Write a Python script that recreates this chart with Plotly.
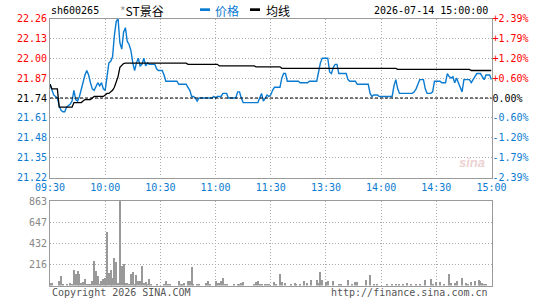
import plotly.graph_objects as go

# ---------------- data ----------------
prev_close = 21.74
minutes = list(range(241))  # 09:30..11:30 (0..120), 13:01..15:00 (121..240)

price = [
    21.83, 21.80, 21.76, 21.75, 21.74, 21.69, 21.66, 21.65, 21.65, 21.68,
    21.69, 21.70, 21.72, 21.79, 21.73, 21.72, 21.75, 21.80, 21.86, 21.89,
    21.92, 21.89, 21.84, 21.80, 21.79, 21.82, 21.84, 21.82, 21.84, 21.80,
    21.79, 21.88, 21.97, 21.98, 22.01, 22.15, 22.24, 22.26, 22.10, 22.06,
    22.17, 22.20, 22.11, 22.09, 22.05, 21.97, 21.92, 21.97, 22.00, 21.95,
    21.96, 22.00, 21.95, 21.97, 21.96, 21.96, 21.96, 21.96, 21.93, 21.92,
    21.92, 21.92, 21.89, 21.85, 21.85, 21.85, 21.85, 21.85, 21.85, 21.85,
    21.83, 21.83, 21.83, 21.83, 21.83, 21.81, 21.79, 21.75, 21.75, 21.74,
    21.72, 21.74, 21.74, 21.74, 21.74, 21.74, 21.74, 21.74, 21.74, 21.75,
    21.74, 21.75, 21.75, 21.75, 21.77, 21.77, 21.77, 21.74, 21.74, 21.74,
    21.74, 21.74, 21.78, 21.78, 21.74, 21.71, 21.71, 21.71, 21.71, 21.71,
    21.71, 21.71, 21.71, 21.71, 21.74, 21.77, 21.72, 21.74, 21.76, 21.75,
    21.76, 21.79, 21.81, 21.81, 21.81, 21.81, 21.87, 21.90, 21.90, 21.85,
    21.85, 21.85, 21.85, 21.85, 21.85, 21.85, 21.84, 21.84, 21.84, 21.84,
    21.84, 21.85, 21.85, 21.85, 21.85, 21.85, 21.91, 21.97, 22.00, 22.00,
    22.00, 22.00, 21.91, 21.90, 21.94, 21.96, 21.96, 21.90, 21.90, 21.90,
    21.90, 21.90, 21.86, 21.85, 21.85, 21.85, 21.85, 21.83, 21.83, 21.83,
    21.83, 21.83, 21.83, 21.83, 21.77, 21.75, 21.76, 21.76, 21.76, 21.75,
    21.75, 21.75, 21.75, 21.75, 21.75, 21.75, 21.75, 21.82, 21.86, 21.80,
    21.77, 21.77, 21.77, 21.77, 21.77, 21.77, 21.77, 21.77, 21.78, 21.80,
    21.83, 21.86, 21.86, 21.86, 21.80, 21.77, 21.77, 21.77, 21.78, 21.85,
    21.85, 21.85, 21.85, 21.84, 21.84, 21.84, 21.90, 21.88, 21.87, 21.88,
    21.84, 21.87, 21.84, 21.81, 21.78, 21.86, 21.86, 21.86, 21.86, 21.84,
    21.86, 21.88, 21.90, 21.90, 21.90, 21.88, 21.86, 21.89, 21.89, 21.89,
    21.86,
]

avg = [
    21.83, 21.80, 21.80, 21.80, 21.80, 21.68, 21.68, 21.68, 21.68, 21.68,
    21.68, 21.68, 21.68, 21.71, 21.71, 21.71, 21.71, 21.71, 21.72, 21.73,
    21.73, 21.73, 21.73, 21.74, 21.75, 21.75, 21.75, 21.75, 21.75, 21.75,
    21.76, 21.77, 21.77, 21.78, 21.79, 21.81, 21.85, 21.88, 21.94, 21.955,
    21.965, 21.968, 21.968, 21.968, 21.968, 21.968, 21.968, 21.968, 21.968, 21.968,
    21.968, 21.968, 21.968, 21.968, 21.968, 21.968, 21.968, 21.968, 21.968, 21.968,
    21.968, 21.968, 21.968, 21.968, 21.968, 21.968, 21.968, 21.968, 21.968, 21.968,
    21.968, 21.968, 21.968, 21.968, 21.968, 21.96, 21.96, 21.96, 21.96, 21.96,
    21.96, 21.96, 21.96, 21.96, 21.96, 21.96, 21.96, 21.96, 21.96, 21.96,
    21.96, 21.96, 21.95, 21.95, 21.95, 21.95, 21.95, 21.95, 21.95, 21.95,
    21.95, 21.95, 21.95, 21.95, 21.95, 21.95, 21.95, 21.95, 21.95, 21.95,
    21.95, 21.95, 21.944, 21.944, 21.944, 21.944, 21.944, 21.944, 21.944, 21.944,
    21.944, 21.944, 21.944, 21.944, 21.944, 21.944, 21.934, 21.934, 21.934, 21.934,
    21.934, 21.934, 21.934, 21.934, 21.934, 21.934, 21.934, 21.934, 21.934, 21.934,
    21.934, 21.934, 21.934, 21.934, 21.934, 21.934, 21.934, 21.934, 21.934, 21.934,
    21.934, 21.934, 21.934, 21.934, 21.934, 21.934, 21.934, 21.934, 21.934, 21.934,
    21.934, 21.934, 21.934, 21.934, 21.934, 21.934, 21.934, 21.934, 21.934, 21.934,
    21.934, 21.934, 21.934, 21.934, 21.934, 21.934, 21.934, 21.934, 21.934, 21.934,
    21.934, 21.934, 21.934, 21.934, 21.934, 21.934, 21.934, 21.934, 21.934, 21.927,
    21.927, 21.927, 21.927, 21.927, 21.927, 21.927, 21.927, 21.927, 21.927, 21.927,
    21.927, 21.927, 21.927, 21.927, 21.927, 21.927, 21.927, 21.927, 21.927, 21.927,
    21.927, 21.927, 21.927, 21.927, 21.927, 21.927, 21.927, 21.927, 21.927, 21.927,
    21.927, 21.927, 21.927, 21.927, 21.927, 21.927, 21.927, 21.927, 21.927, 21.92,
    21.92, 21.92, 21.92, 21.92, 21.92, 21.92, 21.92, 21.92, 21.92, 21.92,
    21.92,
]

volume = [
    27, 27, 0, 0, 0, 41, 92, 10, 0, 20,
    0, 27, 17, 154, 120, 144, 113, 27, 34, 62,
    17, 17, 20, 51, 247, 144, 92, 17, 41, 68,
    75, 548, 130, 154, 75, 277, 240, 27, 863, 199,
    216, 27, 27, 17, 113, 133, 10, 103, 51, 51,
    199, 27, 34, 17, 62, 10, 0, 0, 10, 0,
    0, 0, 10, 44, 17, 17, 0, 0, 0, 0,
    51, 17, 20, 27, 0, 41, 51, 185, 17, 0,
    20, 20, 0, 0, 0, 27, 51, 17, 0, 0,
    41, 27, 27, 41, 72, 17, 17, 0, 0, 0,
    17, 0, 17, 17, 27, 34, 0, 0, 0, 0,
    0, 17, 34, 41, 17, 10, 0, 10, 17, 10,
    0, 0, 37, 20, 0, 116, 37, 0, 27, 0,
    0, 14, 0, 27, 14, 0, 14, 0, 44, 0,
    27, 0, 55, 0, 0, 55, 27, 136, 55, 0,
    37, 44, 0, 0, 44, 0, 0, 14, 20, 0,
    0, 0, 55, 0, 20, 0, 34, 34, 0, 0,
    0, 0, 55, 0, 106, 0, 14, 0, 14, 0,
    0, 0, 0, 14, 0, 0, 14, 0, 20, 0,
    20, 0, 20, 0, 27, 0, 20, 0, 0, 20,
    0, 20, 0, 0, 55, 0, 0, 65, 20, 0,
    34, 0, 37, 0, 20, 0, 0, 113, 27, 0,
    27, 44, 0, 0, 75, 0, 27, 14, 0, 37,
    0, 48, 0, 61, 41, 27, 20, 14, 0, 0,
    0,
]

price_ticks = [22.26, 22.13, 22.00, 21.87, 21.74, 21.61, 21.48, 21.35, 21.22]
vol_ticks = [216, 432, 647, 863]
time_tickvals = [0, 30, 60, 90, 120, 150, 180, 210, 240]
time_ticktext = ["09:30", "10:00", "10:30", "11:00", "11:30", "13:30", "14:00", "14:30", "15:00"]

assert len(price) == 241 and len(avg) == 241 and len(volume) == 241

# ---------------- style ----------------
W, H = 545, 300
RED = "#ff0000"
BLUE = "#0a7bd0"
FRAME = "#9a9a9a"
GRID = "#aaaaaa"
MONO = "DejaVu Sans Mono"
CJK = "Noto Sans CJK SC"

PX0, PX1 = 50, 491.5
MAIN_T, MAIN_B = 18.5, 177.5
VOL_T, VOL_B = 201, 285.5


def px(x):
    return x / W


def py(y):
    return 1 - y / H


def col(v):
    if v > prev_close + 1e-9:
        return RED
    if v < prev_close - 1e-9:
        return BLUE
    return "#000000"


left_text = [f'<span style="color:{col(v)}">{v:.2f}</span>' for v in price_ticks]


def pct(v):
    p = (v - prev_close) / prev_close * 100
    s = "0.00%" if abs(p) < 1e-9 else f"{p:+.2f}%"
    return f'<span style="color:{col(v)}">{s}</span>'


right_text = [pct(v) for v in price_ticks]

fig = go.Figure()
fig.add_trace(go.Scatter(x=minutes, y=price, mode="lines",
                         line=dict(color=BLUE, width=1.4), hoverinfo="skip",
                         xaxis="x", yaxis="y"))
fig.add_trace(go.Scatter(x=minutes, y=avg, mode="lines",
                         line=dict(color="#000000", width=1.3), hoverinfo="skip",
                         xaxis="x", yaxis="y"))
fig.add_trace(go.Scatter(x=minutes, y=price, mode="lines", opacity=0,
                         line=dict(width=0), hoverinfo="skip",
                         xaxis="x", yaxis="y2"))
fig.add_trace(go.Bar(x=minutes, y=volume, width=0.6,
                     marker=dict(color="#999999", line=dict(width=0)),
                     hoverinfo="skip", xaxis="x2", yaxis="y3"))

axis_common = dict(showline=True, mirror=True, linecolor=FRAME, linewidth=1,
                   zeroline=False, ticks="", automargin=False,
                   gridcolor=GRID, griddash="1px,2px", gridwidth=1)

fig.update_layout(
    width=W, height=H,
    margin=dict(l=0, r=0, t=0, b=0),
    paper_bgcolor="white", plot_bgcolor="white",
    showlegend=False, bargap=0,
    xaxis=dict(domain=[px(PX0), px(PX1)], range=[0, 240], anchor="y",
               tickmode="array", tickvals=time_tickvals, ticktext=time_ticktext,
               tickfont=dict(family=MONO, size=10, color=BLUE),
               showgrid=True, **axis_common),
    yaxis=dict(domain=[py(MAIN_B), py(MAIN_T)], range=[21.22, 22.26], anchor="x",
               tickmode="array", tickvals=price_ticks, ticktext=left_text,
               tickfont=dict(family=MONO, size=10),
               showgrid=True, **axis_common),
    yaxis2=dict(overlaying="y", side="right", anchor="x", range=[21.22, 22.26],
                tickmode="array", tickvals=price_ticks, ticktext=right_text,
                tickfont=dict(family=MONO, size=10),
                showgrid=False, showline=False, zeroline=False, ticks="",
                automargin=False),
    xaxis2=dict(domain=[px(PX0), px(PX1)], range=[0, 240], anchor="y3",
                tickmode="array", tickvals=time_tickvals, showticklabels=False,
                showgrid=True, **axis_common),
    yaxis3=dict(domain=[py(VOL_B), py(VOL_T)], range=[0, 863], anchor="x2",
                tickmode="array", tickvals=vol_ticks,
                ticktext=[str(v) for v in vol_ticks],
                tickfont=dict(family=MONO, size=10, color="#888888"),
                showgrid=True, **axis_common),
)

# previous-close dashed line
fig.add_shape(type="line", xref="x domain", yref="y", x0=0, x1=1,
              y0=prev_close, y1=prev_close,
              line=dict(color="#000000", width=1, dash="3px,2px"))

# header
fig.add_annotation(x=px(49), y=py(10.5), xref="paper", yref="paper",
                   text="sh600265", showarrow=False, xanchor="left", yanchor="middle",
                   font=dict(family=MONO, size=10, color="#000000"))
fig.add_annotation(x=px(118), y=py(10.5), xref="paper", yref="paper",
                   text='<span style="color:#999999">*</span>ST景谷', showarrow=False,
                   xanchor="left", yanchor="middle",
                   font=dict(family=CJK, size=12, color="#000000"))
fig.add_shape(type="rect", xref="paper", yref="paper",
              x0=px(200), x1=px(210), y0=py(11), y1=py(8.3),
              fillcolor=BLUE, line=dict(width=0))
fig.add_annotation(x=px(213), y=py(10.5), xref="paper", yref="paper",
                   text="价格", showarrow=False, xanchor="left", yanchor="middle",
                   font=dict(family=CJK, size=12, color=BLUE))
fig.add_shape(type="rect", xref="paper", yref="paper",
              x0=px(250), x1=px(260), y0=py(11), y1=py(8.3),
              fillcolor="#000000", line=dict(width=0))
fig.add_annotation(x=px(264), y=py(10.5), xref="paper", yref="paper",
                   text="均线", showarrow=False, xanchor="left", yanchor="middle",
                   font=dict(family=CJK, size=12, color="#000000"))
fig.add_annotation(x=px(489.5), y=py(10.5), xref="paper", yref="paper",
                   text="2026-07-14 15:00:00", showarrow=False,
                   xanchor="right", yanchor="middle",
                   font=dict(family=MONO, size=10, color="#000000"))

# watermark
fig.add_annotation(x=px(472), y=py(162), xref="paper", yref="paper",
                   text="<b><i>sina</i></b>", showarrow=False,
                   xanchor="center", yanchor="middle",
                   font=dict(family="Liberation Sans", size=13, color="#ecd2d2"))

# footer
fig.add_annotation(x=px(49.5), y=py(292.5), xref="paper", yref="paper",
                   text="Copyright 2026 SINA.COM", showarrow=False,
                   xanchor="left", yanchor="middle",
                   font=dict(family=MONO, size=10, color="#555555"))
fig.add_annotation(x=px(490), y=py(292.5), xref="paper", yref="paper",
                   text="http://finance.sina.com.cn", showarrow=False,
                   xanchor="right", yanchor="middle",
                   font=dict(family=MONO, size=10, color="#555555"))

fig.write_html("out.html")
